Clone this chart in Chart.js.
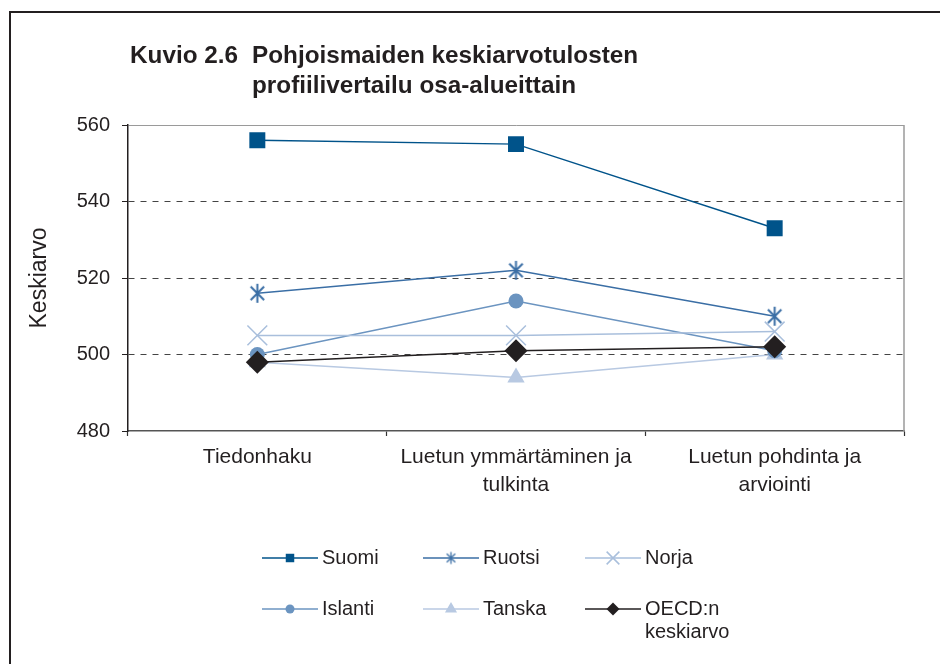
<!DOCTYPE html>
<html lang="fi">
<head>
<meta charset="utf-8">
<script src="https://cdn.jsdelivr.net/npm/chart.js@4.4.1/dist/chart.umd.min.js"></script>
<style>
html, body { margin: 0; padding: 0; background: #fff; }
body { width: 940px; height: 664px; position: relative; overflow: hidden; font-family: 'Liberation Sans', Arial, sans-serif; }
#frame { position: absolute; left: 9px; top: 11px; width: 960px; height: 700px; border-left: 2px solid #231f20; border-top: 2px solid #231f20; }
#wrap { position: absolute; left: 0; top: 0; width: 940px; height: 664px; }
.title { position: absolute; font-weight: bold; font-size: 24.3px; line-height: 24px; color: #231f20; white-space: nowrap; }
</style>
</head>
<body>
<div id="frame"></div>
<div id="wrap"><canvas id="chart"></canvas></div>
<div class="title" style="left:130px; top:43px">Kuvio 2.6</div>
<div class="title" style="left:252px; top:43px">Pohjoismaiden keskiarvotulosten</div>
<div class="title" style="left:252px; top:73px">profiilivertailu osa-alueittain</div>
<script>
// data
const categories = ['Tiedonhaku', ['Luetun ymmärtäminen ja', 'tulkinta'], ['Luetun pohdinta ja', 'arviointi']];
const suomi = [556, 555, 533];
const ruotsi = [516, 522, 510];
const norja = [505, 505, 506];
const islanti = [500, 514, 501];
const tanska = [498, 494, 500];
const oecd = [498, 501, 502];
const yTicks = [480, 500, 520, 540, 560];
const seriesNames = ['Suomi', 'Ruotsi', 'Norja', 'Islanti', 'Tanska', 'OECD:n keskiarvo'];

const textColor = '#231f20';
Chart.defaults.font.family = "'Liberation Sans', Arial, sans-serif";
Chart.defaults.color = textColor;

// asterisk marker (vertical line + X), like the spreadsheet "star"
function starMarker(r, color, lw) {
    const c = document.createElement('canvas');
    const s = Math.ceil(2 * r + lw * 2);
    c.width = s;
    c.height = s;
    const g = c.getContext('2d');
    g.strokeStyle = color;
    g.lineWidth = lw;
    const m = s / 2, d = r * Math.SQRT1_2;
    g.beginPath();
    g.moveTo(m, m - r); g.lineTo(m, m + r);
    g.moveTo(m - d, m - d); g.lineTo(m + d, m + d);
    g.moveTo(m + d, m - d); g.lineTo(m - d, m + d);
    g.stroke();
    return c;
}

const colors = ['#00538a', '#3a6ea5', '#a9bfdc', '#6b94c0', '#b8c9e2', '#231f20'];

const datasets = [
    { label: seriesNames[0], data: suomi, borderColor: colors[0], backgroundColor: colors[0],
      pointStyle: 'rect', pointRadius: 11.3, pointBorderWidth: 0, order: 1,
      legendStyle: 'rect', legendRadius: 6 },
    { label: seriesNames[1], data: ruotsi, borderColor: colors[1], backgroundColor: colors[1],
      pointStyle: starMarker(9.5, colors[1], 2), pointRadius: 10, order: 2,
      legendStyle: starMarker(6, colors[1], 1.3), legendRadius: 6 },
    { label: seriesNames[2], data: norja, borderColor: colors[2], backgroundColor: colors[2],
      pointStyle: 'crossRot', pointRadius: 14, pointBorderWidth: 1.5, order: 3,
      legendStyle: 'crossRot', legendRadius: 9 },
    { label: seriesNames[3], data: islanti, borderColor: colors[3], backgroundColor: colors[3],
      pointStyle: 'circle', pointRadius: 7.5, pointBorderWidth: 0, order: 4,
      legendStyle: 'circle', legendRadius: 4.5 },
    { label: seriesNames[4], data: tanska, borderColor: colors[4], backgroundColor: colors[4],
      pointStyle: 'triangle', pointRadius: 10, pointBorderWidth: 0, order: 5,
      legendStyle: 'triangle', legendRadius: 7 },
    { label: seriesNames[5], data: oecd, borderColor: colors[5], backgroundColor: colors[5],
      pointStyle: 'rectRot', pointRadius: 11.5, pointBorderWidth: 0, order: 0,
      legendStyle: 'rectRot', legendRadius: 6.5 }
];
datasets.forEach(d => {
    d.borderWidth = 1.5;
    d.pointBackgroundColor = d.backgroundColor;
    d.pointBorderColor = d.borderColor;
    d.tension = 0;
});

// grid legend under the plot: 3 columns x 2 rows
const gridLegend = {
    id: 'gridLegend',
    afterDraw(chart) {
        const ctx = chart.ctx;
        const colX = [262, 423, 585];
        const rowY = [558, 609];
        ctx.save();
        ctx.font = "20px 'Liberation Sans', Arial, sans-serif";
        ctx.textBaseline = 'middle';
        chart.data.datasets.forEach((ds, i) => {
            const x0 = colX[i % 3];
            const y = rowY[Math.floor(i / 3)];
            ctx.strokeStyle = ds.borderColor;
            ctx.lineWidth = ds.borderWidth;
            ctx.beginPath();
            ctx.moveTo(x0, y);
            ctx.lineTo(x0 + 56, y);
            ctx.stroke();
            ctx.fillStyle = ds.backgroundColor;
            Chart.helpers.drawPoint(ctx, {
                pointStyle: ds.legendStyle, radius: ds.legendRadius, rotation: 0,
                borderWidth: ds.legendStyle === 'crossRot' ? 1.3 : 0
            }, x0 + 28, y);
            // wrap long labels
            ctx.fillStyle = textColor;
            const words = ds.label.split(' ');
            const lines = [];
            let cur = '';
            words.forEach(w => {
                const t = cur ? cur + ' ' + w : w;
                if (cur && ctx.measureText(t).width > 115) { lines.push(cur); cur = w; } else { cur = t; }
            });
            lines.push(cur);
            lines.forEach((l, k) => ctx.fillText(l, x0 + 60, y + k * 23));
        });
        ctx.restore();
    }
};

// right edge of the plot frame
const plotFrame = {
    id: 'plotFrame',
    beforeDatasetsDraw(chart) {
        const a = chart.chartArea, ctx = chart.ctx;
        ctx.save();
        ctx.strokeStyle = '#9a9a9a';
        ctx.lineWidth = 1.5;
        ctx.beginPath();
        ctx.moveTo(a.right, a.top);
        ctx.lineTo(a.right, a.bottom);
        ctx.stroke();
        ctx.restore();
    }
};

new Chart(document.getElementById('chart'), {
    type: 'line',
    data: { labels: categories, datasets },
    options: {
        responsive: true,
        maintainAspectRatio: false,
        animation: false,
        events: [],
        layout: { padding: { left: 10, top: 125, right: 36, bottom: 143 } },
        plugins: { legend: { display: false }, tooltip: { enabled: false } },
        scales: {
            x: {
                offset: true,
                afterFit: s => { s.height = 90; },
                grid: { offset: true, drawOnChartArea: false, tickLength: 5, tickColor: '#333', tickWidth: 1.2 },
                border: { color: '#555', width: 1.5 },
                ticks: { font: { size: 21, lineHeight: 1.3 }, color: textColor, padding: 8, maxRotation: 0, autoSkip: false }
            },
            y: {
                min: 480,
                max: 560,
                afterFit: s => { s.width = 118; },
                afterBuildTicks: s => { s.ticks = yTicks.map(v => ({ value: v })); },
                grid: {
                    color: c => !c.tick ? '#444' : c.tick.value === 560 ? '#9a9a9a' : c.tick.value === 480 ? 'rgba(0,0,0,0)' : '#444',
                    lineWidth: 1,
                    tickLength: 6,
                    tickColor: textColor
                },
                border: {
                    color: textColor,
                    width: 1.5,
                    dash: c => (c.tick && c.tick.value > 480 && c.tick.value < 560) ? [6, 6] : []
                },
                ticks: { font: { size: 20 }, color: textColor, padding: 12 },
                title: {
                    display: true,
                    text: 'Keskiarvo',
                    font: { size: 23 },
                    color: textColor,
                    padding: { top: 16, bottom: 0 }
                }
            }
        }
    },
    plugins: [gridLegend, plotFrame]
});
</script>
</body>
</html>
